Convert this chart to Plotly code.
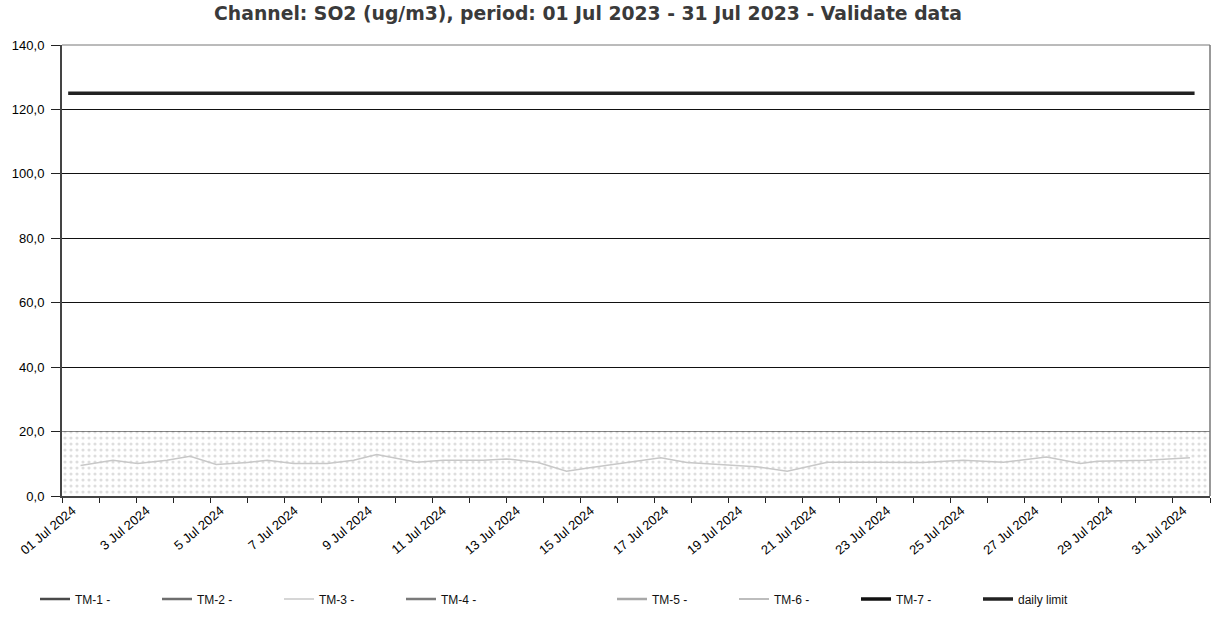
import plotly.graph_objects as go

# ---- data ----
series_names = ["TM-1 -", "TM-2 -", "TM-3 -", "TM-4 -", "TM-5 -", "TM-6 -", "TM-7 -"]
so2_times = [
    "2024-07-01 12:00", "2024-07-02 09:00", "2024-07-03 01:00", "2024-07-03 20:00",
    "2024-07-04 11:00", "2024-07-05 04:00", "2024-07-06 00:00", "2024-07-06 13:00",
    "2024-07-07 06:00", "2024-07-08 04:00", "2024-07-08 21:00", "2024-07-09 12:00",
    "2024-07-10 14:00", "2024-07-11 07:00", "2024-07-12 09:00", "2024-07-13 00:00",
    "2024-07-13 20:00", "2024-07-14 15:00", "2024-07-15 06:00", "2024-07-16 00:00",
    "2024-07-16 17:00", "2024-07-17 04:00", "2024-07-17 21:00", "2024-07-18 20:00",
    "2024-07-19 18:00", "2024-07-20 14:00", "2024-07-21 03:00", "2024-07-21 16:00",
    "2024-07-22 22:00", "2024-07-24 06:00", "2024-07-25 08:00", "2024-07-26 10:00",
    "2024-07-27 14:00", "2024-07-28 12:00", "2024-07-28 23:00", "2024-07-30 07:00",
    "2024-07-31 11:00",
]
so2_values = [
    9.5, 11.1, 10.1, 11.1, 12.3, 9.8, 10.4, 11.1, 10.1, 10.1, 11.1, 12.9,
    10.5, 11.1, 11.1, 11.5, 10.5, 7.7, 8.8, 10.1, 11.3, 11.9, 10.4, 9.8,
    9.1, 7.7, 9.1, 10.5, 10.5, 10.4, 11.1, 10.5, 12.1, 10.1, 10.8, 11.1, 11.9,
]
limit_times = ["2024-07-01 04:00", "2024-07-31 14:00"]
limit_values = [125, 125]
band_top = 20
x_range = ["2024-07-01 00:00", "2024-08-01 00:00"]
tick_days = ["2024-07-%02d 12:00" % d for d in range(1, 32, 2)]
tick_labels = ["01 Jul 2024"] + ["%d Jul 2024" % d for d in range(3, 32, 2)]

# ---- styles ----
styles = [
    dict(color="#4a4a4a", width=2.5),
    dict(color="#6e6e6e", width=2.5),
    dict(color="#c8c8c8", width=1.5),
    dict(color="#7a7a7a", width=2.5),
    dict(color="#a8a8a8", width=2.5),
    dict(color="#bdbdbd", width=2),
    dict(color="#111111", width=3.5),
]

fig = go.Figure()

# dotted background band
fig.add_trace(go.Scatter(
    x=x_range, y=[band_top, band_top], mode="lines", fill="tozeroy",
    line=dict(width=0, color="rgba(0,0,0,0)"),
    fillpattern=dict(shape=".", fgcolor="#bdbdbd", bgcolor="white", size=6, solidity=0.22),
    fillcolor="white", showlegend=False, hoverinfo="skip",
))

for i, (name, st) in enumerate(zip(series_names, styles)):
    legend = "legend" if i < 4 else "legend2"
    if name == "TM-3 -":
        xs, ys = so2_times, so2_values
    else:
        xs, ys = [None], [None]
    fig.add_trace(go.Scatter(x=xs, y=ys, mode="lines", name=name, line=st, legend=legend))

fig.add_trace(go.Scatter(
    x=limit_times, y=limit_values, mode="lines", name="daily limit",
    line=dict(color="#222222", width=3.5), legend="legend2",
))

legend_common = dict(
    orientation="h", xref="container", yref="container", xanchor="left",
    yanchor="middle", y=1 - 599 / 637,
    font=dict(family="Liberation Sans", size=12, color="#111"),
    entrywidth=77, entrywidthmode="pixels", itemwidth=30, bgcolor="rgba(0,0,0,0)",
    tracegroupgap=0, itemclick=False,
)

fig.update_layout(
    width=1213, height=637,
    margin=dict(l=62, r=3, t=45, b=141, autoexpand=False),
    paper_bgcolor="white", plot_bgcolor="white",
    separators=", ",
    title=dict(
        text="Channel: SO2 (ug/m3), period: 01 Jul 2023 - 31 Jul 2023 - Validate data",
        x=588 / 1213, xref="container", xanchor="center",
        y=1 - 13 / 637, yref="container", yanchor="middle",
        font=dict(family="DejaVu Sans", size=18.8, color="#3a3a3a", weight="bold"),
    ),
    legend=dict(x=35 / 1213, **legend_common),
    legend2=dict(x=612 / 1213, **legend_common),
    showlegend=True,
)

fig.update_xaxes(
    type="date", range=x_range,
    tickvals=tick_days, ticktext=tick_labels, tickangle=-40, ticks="",
    ticklabelshift=-8,
    tickfont=dict(family="Liberation Sans", size=13, color="#000"),
    minor=dict(ticks="outside", dtick=86400000, tick0="2024-07-01", ticklen=5,
               tickcolor="#222", tickwidth=1, showgrid=False),
    showgrid=False, showline=True, linecolor="#444", linewidth=2, mirror=False,
)
fig.update_yaxes(
    range=[0, 140], dtick=20, tickformat=".1f",
    ticks="outside", ticklen=9, tickcolor="#222",
    tickfont=dict(family="Liberation Sans", size=13, color="#000"),
    ticklabelstandoff=4,
    showgrid=True, gridcolor="#111", gridwidth=1,
    showline=True, linecolor="#444", linewidth=2, zeroline=False,
)

# top and right frame
fig.add_shape(type="line", xref="paper", yref="paper", x0=0, x1=1, y0=1, y1=1,
              line=dict(color="#777", width=1))
fig.add_shape(type="line", xref="paper", yref="paper", x0=1, x1=1, y0=0, y1=1,
              line=dict(color="#777", width=1.5))

fig.write_html(
    "out.html",
    config={"displayModeBar": False},
    post_script="document.body.style.margin='0';document.body.style.overflow='hidden';",
)
